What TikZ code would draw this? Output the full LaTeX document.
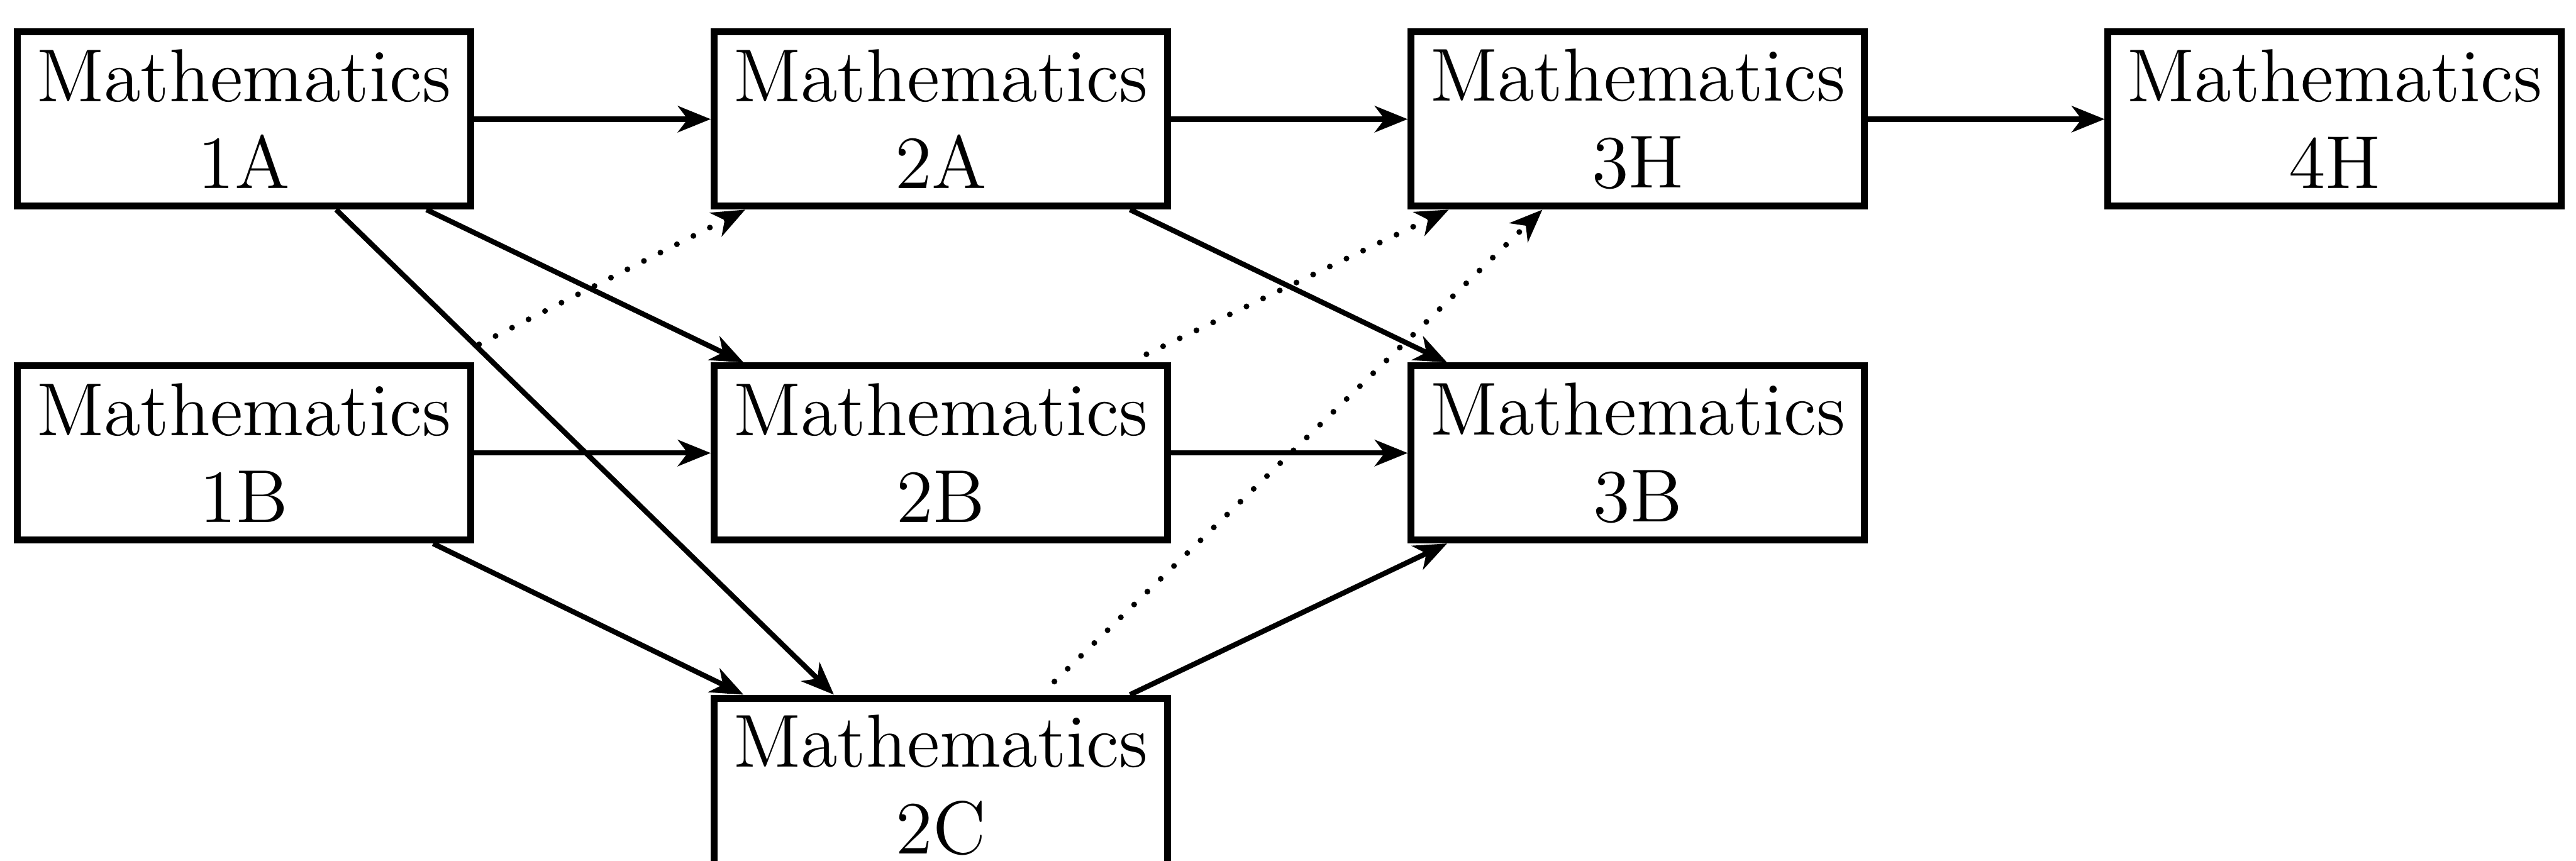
\documentclass[tikz,border=0pt]{standalone}
\usepackage{tikz}
\usetikzlibrary{arrows.meta,positioning,calc}

\begin{document}
\begin{tikzpicture}[
    font=\fontsize{13}{15}\selectfont,
    node distance=0.93cm and 1.44cm,
    course/.style={draw, line width=1.2pt, minimum width=2.76cm, minimum height=1.06cm, inner sep=0pt, align=center},
    req/.style={line width=0.9pt, -{Stealth[length=2mm, width=1.6mm, inset=0.6mm]}},
    opt/.style={req, line cap=round, dash pattern=on 0pt off 3.2pt, line width=1pt}
  ]
  \useasboundingbox (0,0) rectangle (15.68,-5.24);
  \clip (0,0) rectangle (15.68,-5.24);

  % first year, then the rows to the right
  \node[course] (1A) at (1.485,-0.725) {Mathematics\\1A};
  \node[course, right=of 1A] (2A) {Mathematics\\2A};
  \node[course, right=of 2A] (3H) {Mathematics\\3H};
  \node[course, right=of 3H] (4H) {Mathematics\\4H};
  \node[course, below=of 1A] (1B) {Mathematics\\1B};
  \node[course, right=of 1B] (2B) {Mathematics\\2B};
  \node[course, right=of 2B] (3B) {Mathematics\\3B};
  \node[course, below=0.92cm of 2B] (2C) {Mathematics\\2C};

  % required
  \draw[req] (1A) -- (2A);
  \draw[req] (2A) -- (3H);
  \draw[req] (3H) -- (4H);
  \draw[req] (1B) -- (2B);
  \draw[req] (2B) -- (3B);
  \draw[req] ($(1A.south east)+(-0.29,0)$) -- ($(2B.north west)+(0.2,0)$);
  \draw[req] ($(1A.south east)+(-0.84,0)$) -- ($(2C.north west)+(0.75,0)$);
  \draw[req] ($(1B.south east)+(-0.25,0)$) -- ($(2C.north west)+(0.2,0)$);
  \draw[req] ($(2A.south east)+(-0.25,0)$) -- ($(3B.north west)+(0.24,0)$);
  \draw[req] ($(2C.north east)+(-0.25,0)$) -- ($(3B.south west)+(0.24,0)$);

  % optional
  \draw[opt] ($(1B.north east)+(0.03,0.11)$) -- ($(2A.south west)+(0.21,0)$);
  \draw[opt] ($(2B.north east)+(-0.15,0.05)$) -- ($(3H.south west)+(0.25,0)$);
  \draw[opt] ($(2C.north east)+(-0.71,0.08)$) -- ($(3H.south west)+(0.82,0)$);
\end{tikzpicture}
\end{document}
